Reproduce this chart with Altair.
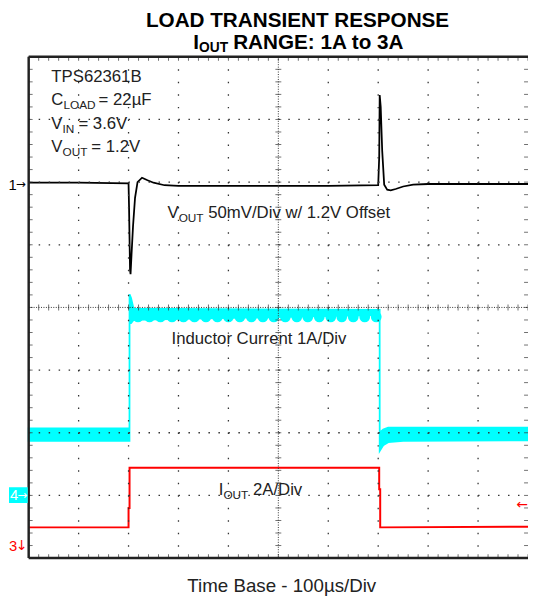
import altair as alt
import pandas as pd
import numpy as np

# ---------------- data (screen divisions: x 0..10 -> 0..1000 us, y -4..4) -------------
vout_t = [0, 1.0, 2.0, 2.01, 2.03, 2.04, 2.06, 2.09, 2.13, 2.18, 2.27, 2.38, 2.5, 2.72, 3.0, 4.0,
          5.0, 6.0, 7.0, 7.02, 7.03, 7.05, 7.08, 7.12, 7.18, 7.25, 7.35, 7.5, 7.7, 8.0, 9.0, 10.0]
vout_v = [1.99, 1.99, 1.98, 1.6, 0.6, 0.53, 0.85, 1.3, 1.75, 2.0, 2.07, 2.03, 1.99, 1.95, 1.94, 1.94,
          1.94, 1.94, 1.95, 2.4, 3.39, 3.2, 2.5, 1.96, 1.88, 1.87, 1.89, 1.93, 1.96, 1.97, 1.97, 1.97]

il_t   = [0, 2.019, 2.02, 2.05, 2.1, 7.029, 7.03, 7.1, 7.2, 7.5, 10.0]
il_top = [-1.93, -1.93, 0.21, 0.15, -0.02, -0.04, -2.0, -1.95, -1.92, -1.92, -1.92]
il_bot = [-2.13, -2.13, -0.25, -0.25, -0.2, -0.12, -2.29, -2.2, -2.15, -2.13, -2.12]

bead_t = [2.19, 2.42, 2.64, 2.87, 3.10, 3.32, 3.55, 3.78, 4.00, 4.23, 4.46,
          4.69, 4.91, 5.14, 5.37, 5.59, 5.82, 6.05, 6.27, 6.50, 6.73, 6.96]
bead_v = [-0.15] * len(bead_t)

iout_t = [0, 2.0, 2.0, 2.02, 2.02, 7.02, 7.02, 7.04, 7.04, 10.0]
iout_v = [-3.51, -3.51, -3.2, -3.2, -2.56, -2.56, -2.9, -2.9, -3.51, -3.50]

# ---------------- layout helpers (annotation placement only) ----------------
W, H = 507, 509
X0, YC, DX, DY = 29.0, 307.5, 50.7, 63.6


def px(v):
    return (v - X0) / DX


def py(v):
    return (YC - v) / DY


xs = alt.Scale(domain=[0, 10], nice=False, zero=False)
ys = alt.Scale(domain=[-4, 4], nice=False, zero=False)
FONT = "Liberation Sans"


def ex(f="x"):
    return alt.X(f"{f}:Q", scale=xs, axis=None)


def ey(f="y"):
    return alt.Y(f"{f}:Q", scale=ys, axis=None)


# ---------------- traces ----------------
vout_df = pd.DataFrame({"x": vout_t, "y": vout_v, "i": range(len(vout_t))})
il_df = pd.DataFrame({"x": il_t, "y": il_top, "y2": il_bot})
bead_df = pd.DataFrame({"x": bead_t, "y": bead_v})
iout_df = pd.DataFrame({"x": iout_t, "y": iout_v, "i": range(len(iout_t))})

cyan = "#00FFFF"
il_area = alt.Chart(il_df).mark_area(color=cyan, stroke=cyan, strokeWidth=1.8, opacity=1,
                                     fillOpacity=1).encode(x=ex(), y=ey(), y2="y2:Q")
beads = alt.Chart(bead_df).mark_circle(size=120, color=cyan, opacity=1).encode(x=ex(), y=ey())
vout_line = alt.Chart(vout_df).mark_line(color="#000000", strokeWidth=1.8).encode(
    x=ex(), y=ey(), order="i:Q")
iout_line = alt.Chart(iout_df).mark_line(color="#FF0000", strokeWidth=2).encode(
    x=ex(), y=ey(), order="i:Q")

# ---------------- graticule ----------------
gx = pd.DataFrame({"x": [1, 2, 3, 4, 6, 7, 8, 9], "y": 4, "y2": -4})
gy = pd.DataFrame({"y": [-3, -2, -1, 1, 2, 3], "x": 0, "x2": 10})
grid_v = alt.Chart(gx).mark_rule(color="#333", strokeWidth=1.3, strokeDash=[1.5, DY / 5 - 1.5]).encode(
    x=ex(), y=ey(), y2="y2:Q")
grid_h = alt.Chart(gy).mark_rule(color="#333", strokeWidth=1.3, strokeDash=[1.5, DX / 5 - 1.5]).encode(
    y=ey(), x=ex(), x2="x2:Q")
cv = alt.Chart(pd.DataFrame({"x": [5], "y": [4], "y2": [-4]})).mark_rule(
    color="#333", strokeWidth=1, strokeDash=[1, 1.5]).encode(x=ex(), y=ey(), y2="y2:Q")
ch = alt.Chart(pd.DataFrame({"y": [0], "x": [0], "x2": [10]})).mark_rule(
    color="#333", strokeWidth=1, strokeDash=[1, 1.5]).encode(y=ey(), x=ex(), x2="x2:Q")

minor_x = np.round(np.arange(0, 10.001, 0.2), 2)
minor_y = np.round(np.arange(-4, 4.001, 0.2), 2)
tick_c_v = alt.Chart(pd.DataFrame({"x": 5.0, "y": minor_y})).mark_tick(
    orient="horizontal", size=6, thickness=1, color="#333").encode(x=ex(), y=ey())
tick_c_h = alt.Chart(pd.DataFrame({"x": minor_x, "y": 0.0})).mark_tick(
    orient="vertical", size=6, thickness=1, color="#333").encode(x=ex(), y=ey())
tick_top = alt.Chart(pd.DataFrame({"x": minor_x, "y": 4.0})).mark_tick(
    orient="vertical", size=4, thickness=1, color="#333", yOffset=2).encode(x=ex(), y=ey())
tick_bot = alt.Chart(pd.DataFrame({"x": minor_x, "y": -4.0})).mark_tick(
    orient="vertical", size=4, thickness=1, color="#333", yOffset=-2).encode(x=ex(), y=ey())
tick_left = alt.Chart(pd.DataFrame({"x": 0.0, "y": minor_y})).mark_tick(
    orient="horizontal", size=4, thickness=1, color="#333", xOffset=2).encode(x=ex(), y=ey())
tick_right = alt.Chart(pd.DataFrame({"x": 10.0, "y": minor_y})).mark_tick(
    orient="horizontal", size=4, thickness=1, color="#333", xOffset=-2).encode(x=ex(), y=ey())

frame_v = alt.Chart(pd.DataFrame({"x": [0], "y": [4], "y2": [-4]})).mark_rule(
    color="#222", strokeWidth=2.5).encode(x=ex(), y=ey(), y2="y2:Q")
frame_h = alt.Chart(pd.DataFrame({"y": [4, -4], "x": [0, 0], "x2": [10, 10]})).mark_rule(
    color="#222", strokeWidth=2.5).encode(y=ey(), x=ex(), x2="x2:Q")

# ---------------- text ----------------
TXT = "#222222"
B, S = 17, 12
rows = [
    # text, left px, middle px, size, color
    ("TPS62361B", 52, 74, B, TXT),
    ("C", 52, 97.5, B, TXT), ("LOAD", 64.3, 102.5, S, TXT), ("= 22µF", 100, 97.5, B, TXT),
    ("V", 52, 121, B, TXT), ("IN", 63.3, 126, S, TXT), ("= 3.6V", 79.5, 121, B, TXT),
    ("V", 52, 144.5, B, TXT), ("OUT", 63.3, 149.5, S, TXT), ("= 1.2V", 92.6, 144.5, B, TXT),
    ("V", 170, 212, B, TXT), ("OUT", 181.3, 217, S, TXT), ("50mV/Div w/ 1.2V Offset", 211.3, 212, B, TXT),
    ("Inductor Current 1A/Div", 174, 340, B, TXT),
    ("I", 222, 493, B, TXT), ("OUT", 226.7, 498, S, TXT), ("2A/Div", 256.7, 493, B, TXT),
    ("1", 8.5, 183, 15, "#000000"),
    ("4", 10, 498, 15, "#FFFFFF"),
    ("3", 9, 550, 15, "#FF0000"),
]
tdf = pd.DataFrame({
    "x": [px(r[1]) for r in rows], "y": [py(r[2]) for r in rows],
    "t": [r[0] for r in rows], "s": [r[3] for r in rows], "c": [r[4] for r in rows]})

arrows = [
    ("→", 16.5, 182.5, 12, "#000000"),
    ("→", 18, 497.5, 12, "#FFFFFF"),
    ("↓", 16, 550, 14, "#FF0000"),
    ("←", 524, 508, 14, "#FF0000"),
]
adf = pd.DataFrame({
    "x": [px(r[1]) for r in arrows], "y": [py(r[2]) for r in arrows],
    "t": [r[0] for r in arrows], "s": [r[3] for r in arrows], "c": [r[4] for r in arrows]})

box = alt.Chart(pd.DataFrame({"x": [px(9)], "x2": [px(28)], "y": [py(490)], "y2": [py(506)]})).mark_rect(
    color=cyan).encode(x=ex(), x2="x2:Q", y=ey(), y2="y2:Q")

texts = alt.Chart(tdf).mark_text(align="left", baseline="middle", font=FONT).encode(
    x=ex(), y=ey(), text="t:N", size=alt.Size("s:Q", scale=None), color=alt.Color("c:N", scale=None))
arrow_txt = alt.Chart(adf).mark_text(align="left", baseline="middle", font="DejaVu Sans").encode(
    x=ex(), y=ey(), text="t:N", size=alt.Size("s:Q", scale=None), color=alt.Color("c:N", scale=None))

center_txt = alt.Chart(pd.DataFrame({"x": [px(286)], "y": [py(590)], "t": ["Time Base - 100µs/Div"]})).mark_text(
    align="center", baseline="middle", font=FONT, fontSize=19, color=TXT).encode(x=ex(), y=ey(), text="t:N")

title_rows = [
    ("LOAD TRANSIENT RESPONSE", 302, 17, 21, "center"),
    ("I", 196, 39, 21, "left"), ("OUT", 202, 44.5, 14, "left"), ("RANGE: 1A to 3A", 236.6, 39, 21, "left"),
]
title_layers = []
for align in ["center", "left"]:
    sub = [r for r in title_rows if r[4] == align]
    d = pd.DataFrame({"x": [px(r[1]) for r in sub], "y": [py(r[2]) for r in sub],
                      "t": [r[0] for r in sub], "s": [r[3] for r in sub]})
    title_layers.append(alt.Chart(d).mark_text(align=align, baseline="middle", font=FONT,
                                               fontWeight="bold", color="#000").encode(
        x=ex(), y=ey(), text="t:N", size=alt.Size("s:Q", scale=None)))

chart = alt.layer(
    il_area, beads, vout_line, iout_line,
    grid_v, grid_h, cv, ch, tick_c_v, tick_c_h, tick_top, tick_bot, tick_left, tick_right,
    frame_v, frame_h, box, texts, arrow_txt, center_txt, *title_layers,
).properties(
    width=W, height=H,
    padding={"left": 21, "top": 45, "right": 0, "bottom": 36},
    autosize=alt.AutoSizeParams(type="none"),
    background="white",
).configure_view(stroke=None)

chart.save("out.html", embed_options={"renderer": "svg", "actions": False})
